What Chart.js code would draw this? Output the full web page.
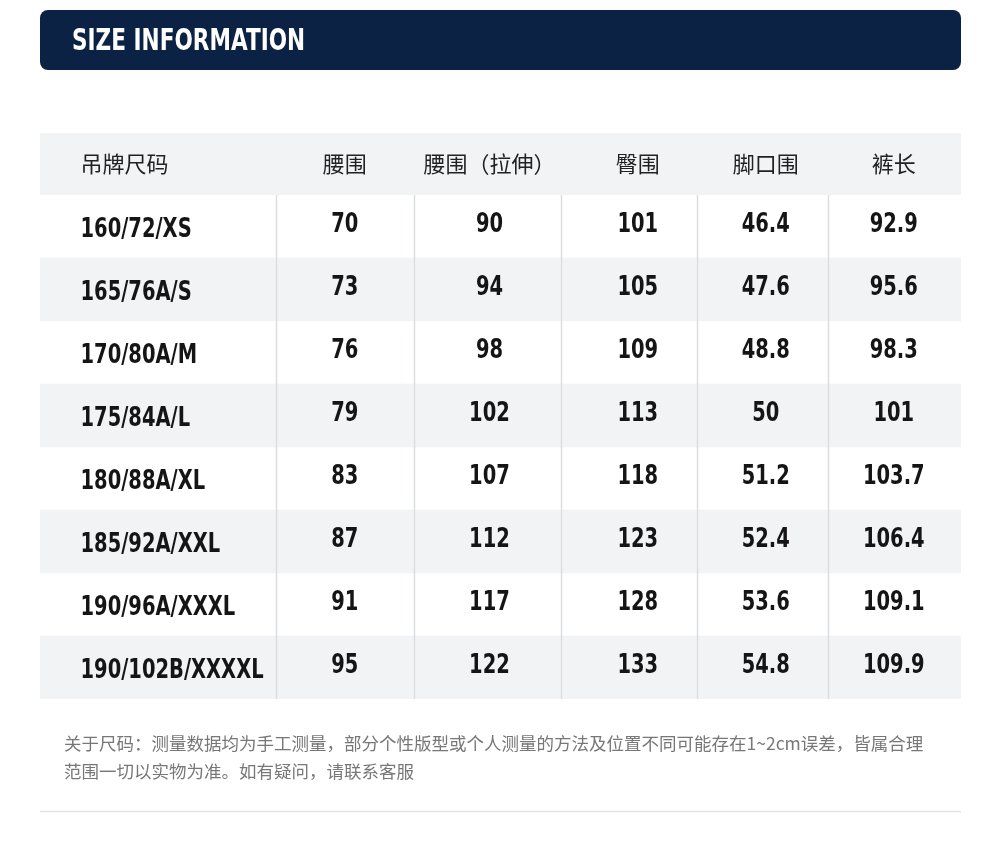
<!DOCTYPE html>
<html>
<head>
<meta charset="utf-8">
<script src="https://cdn.jsdelivr.net/npm/chart.js@4/dist/chart.umd.min.js"></script>
<style>
  body { margin: 0; background: #fff; }
  canvas { display: block; }
</style>
</head>
<body>
<canvas id="sizeChart" width="1000" height="854"></canvas>
<script>
// table data
const headers = ['吊牌尺码', '腰围', '腰围（拉伸）', '臀围', '脚口围', '裤长'];
const sizes = ['160/72/XS', '165/76A/S', '170/80A/M', '175/84A/L', '180/88A/XL', '185/92A/XXL', '190/96A/XXXL', '190/102B/XXXXL'];
const waist = [70, 73, 76, 79, 83, 87, 91, 95];
const waistStretch = [90, 94, 98, 102, 107, 112, 117, 122];
const hip = [101, 105, 109, 113, 118, 123, 128, 133];
const hem = ['46.4', '47.6', '48.8', '50', '51.2', '52.4', '53.6', '54.8'];
const length = ['92.9', '95.6', '98.3', '101', '103.7', '106.4', '109.1', '109.9'];
const noteLines = [
  '关于尺码：测量数据均为手工测量，部分个性版型或个人测量的方法及位置不同可能存在1~2cm误差，皆属合理',
  '范围一切以实物为准。如有疑问，请联系客服'
];

// column layout (fractions of table width)
const colCenters = [0.044, 0.331, 0.488, 0.649, 0.788, 0.927];
const colLines = [0.256, 0.406, 0.566, 0.713, 0.856];

const NUM_FONT = '"DejaVu Sans", sans-serif';
const CJK_FONT = '"Noto Sans CJK SC", sans-serif';

// condensed text: squeeze horizontally
function narrowText(ctx, text, x, y, sx) {
  ctx.save();
  ctx.translate(x, y);
  ctx.scale(sx, 1);
  ctx.fillText(text, 0, 0);
  ctx.restore();
}

const tablePlugin = {
  id: 'tablePlugin',
  beforeDraw(chart) {
    const ctx = chart.ctx;
    const a = chart.chartArea;
    const w = a.right - a.left;
    ctx.save();
    ctx.fillStyle = '#0b2245';
    ctx.beginPath();
    ctx.roundRect(a.left, 10, w, 60, 8);
    ctx.fill();
    ctx.fillStyle = '#fff';
    ctx.font = 'bold 30px ' + NUM_FONT;
    ctx.textBaseline = 'middle';
    ctx.textAlign = 'left';
    narrowText(ctx, 'SIZE INFORMATION', 72, 42, 0.72);
    ctx.fillStyle = '#f2f3f5';
    ctx.fillRect(a.left, 133, w, a.top - 133);
    ctx.fillStyle = '#222';
    ctx.font = '22px ' + CJK_FONT;
    headers.forEach((h, i) => {
      ctx.textAlign = i === 0 ? 'left' : 'center';
      ctx.fillText(h, a.left + colCenters[i] * w, 164);
    });
    ctx.restore();
  },
  afterDraw(chart) {
    const ctx = chart.ctx;
    const a = chart.chartArea;
    const w = a.right - a.left;
    const ys = chart.scales.y;
    ctx.save();
    ctx.strokeStyle = '#dcdde0';
    ctx.lineWidth = 1.5;
    colLines.forEach(f => {
      const x = Math.round(a.left + f * w) + 0.5;
      ctx.beginPath();
      ctx.moveTo(x, a.top);
      ctx.lineTo(x, a.bottom);
      ctx.stroke();
    });
    ctx.fillStyle = '#151515';
    ctx.textBaseline = 'middle';
    ctx.font = 'bold 26px ' + NUM_FONT;
    sizes.forEach((s, r) => {
      const y = ys.getPixelForValue(r);
      ctx.textAlign = 'left';
      narrowText(ctx, s, a.left + colCenters[0] * w, y + 4, 0.75);
      const vals = [waist[r], waistStretch[r], hip[r], hem[r], length[r]];
      ctx.textAlign = 'center';
      vals.forEach((v, c) => narrowText(ctx, String(v), a.left + colCenters[c + 1] * w, y - 1, 0.75));
    });
    ctx.fillStyle = '#777';
    ctx.font = '17.5px ' + CJK_FONT;
    ctx.textAlign = 'left';
    noteLines.forEach((t, i) => ctx.fillText(t, 64, 743 + i * 28));
    ctx.strokeStyle = '#e3e3e3';
    ctx.beginPath();
    ctx.moveTo(a.left, 811.5);
    ctx.lineTo(a.right, 811.5);
    ctx.stroke();
    ctx.restore();
  }
};

new Chart(document.getElementById('sizeChart'), {
  type: 'bar',
  data: {
    labels: sizes,
    datasets: [{
      data: sizes.map((s, i) => i % 2 === 1 ? [0, 1] : null),
      backgroundColor: '#f2f3f5',
      barPercentage: 1,
      categoryPercentage: 1,
      borderWidth: 0
    }]
  },
  options: {
    indexAxis: 'y',
    responsive: false,
    animation: false,
    devicePixelRatio: 1,
    layout: { padding: { left: 40, right: 39, top: 195, bottom: 155 } },
    plugins: { legend: { display: false }, tooltip: { enabled: false } },
    scales: {
      x: { type: 'linear', min: 0, max: 1, display: false },
      y: { type: 'category', display: false, offset: true }
    }
  },
  plugins: [tablePlugin]
});
</script>
</body>
</html>
